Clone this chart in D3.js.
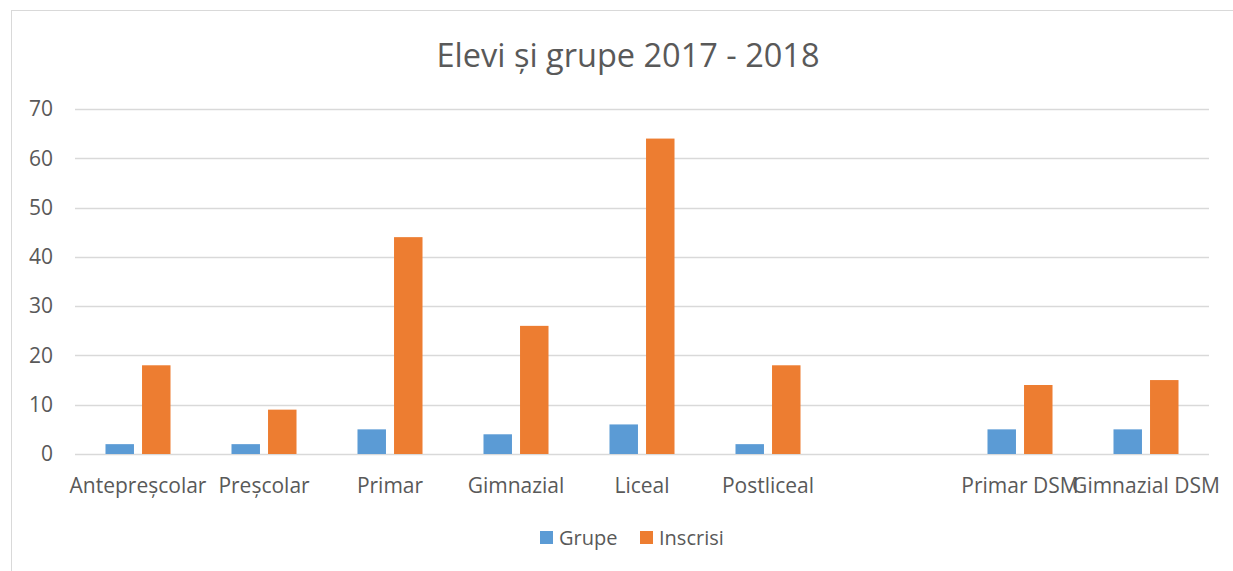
<!DOCTYPE html>
<html><head><meta charset="utf-8">
<script src="https://cdn.jsdelivr.net/npm/d3@7"></script>
<style>body{margin:0;background:#fff}svg{display:block}</style>
</head><body><svg id="c" width="1233" height="571"></svg>
<script>
const categories = ["Antepreșcolar","Preșcolar","Primar","Gimnazial","Liceal","Postliceal","","Primar DSM","Gimnazial DSM"];
const grupe =    [2, 2, 5, 4, 6, 2, null, 5, 5];
const inscrisi = [18, 9, 44, 26, 64, 18, null, 14, 15];
const yTicks = [0,10,20,30,40,50,60,70];
const seriesNames = ["Grupe","Inscrisi"];
const colors = ["#5B9BD5","#ED7D31"];
const title = "Elevi și grupe 2017 - 2018";

const svg = d3.select("#c");
const font = "'Open Sans', sans-serif";
const L = 75, R = 1209, T = 109, B = 454;

svg.append("rect").attr("x",11.5).attr("y",10.5).attr("width",1300).attr("height",700)
  .attr("fill","#fff").attr("stroke","#d9d9d9");

const x = d3.scaleBand().domain(d3.range(categories.length)).range([L,R]);
const y = d3.scaleLinear().domain([0,70]).range([B,T]);

// gridlines
svg.append("g").selectAll("line").data(yTicks).join("line")
  .attr("x1",L).attr("x2",R).attr("y1",d=>Math.round(y(d))+0.5).attr("y2",d=>Math.round(y(d))+0.5)
  .attr("stroke","#d9d9d9").attr("stroke-width",1.3);

// y axis labels
const yAxis = d3.axisLeft(y).tickValues(yTicks).tickSize(0).tickPadding(0);
const ga = svg.append("g").attr("transform",`translate(53,0)`).call(yAxis);
ga.select(".domain").remove();
ga.selectAll("text").attr("font-family",font).attr("font-size",21).attr("fill","#595959");

// bars
const step = x.step();
const bw = step*0.226, gap = step*0.064;
const series = [grupe, inscrisi];
series.forEach((vals,si)=>{
  svg.append("g").selectAll("rect").data(vals.map((v,i)=>({v,i})).filter(d=>d.v!=null)).join("rect")
    .attr("x",d=>{
      const c = x(d.i)+step/2;
      return si===0 ? c - gap/2 - bw : c + gap/2;
    })
    .attr("width",bw)
    .attr("y",d=>y(d.v)).attr("height",d=>y(0)-y(d.v))
    .attr("fill",colors[si]);
});

// x labels
const xAxis = d3.axisBottom(x).tickFormat(i=>categories[i]).tickSize(0).tickPadding(0);
const gx = svg.append("g").attr("transform",`translate(0,${493})`).call(xAxis);
gx.select(".domain").remove();
gx.selectAll("text").attr("font-family",font).attr("font-size",21).attr("fill","#595959").attr("dy","0").attr("y",0);

// title
svg.append("text").attr("x",628).attr("y",67).attr("text-anchor","middle")
  .attr("font-family",font).attr("font-size",32.5).attr("fill","#595959").text(title);

// legend
const leg = [{n:seriesNames[0],x:540},{n:seriesNames[1],x:640}];
leg.forEach((d,i)=>{
  svg.append("rect").attr("x",d.x).attr("y",531).attr("width",13).attr("height",13).attr("fill",colors[i]);
  svg.append("text").attr("x",d.x+19).attr("y",545).attr("font-family",font).attr("font-size",20)
    .attr("fill","#595959").text(d.n);
});
</script></body></html>
